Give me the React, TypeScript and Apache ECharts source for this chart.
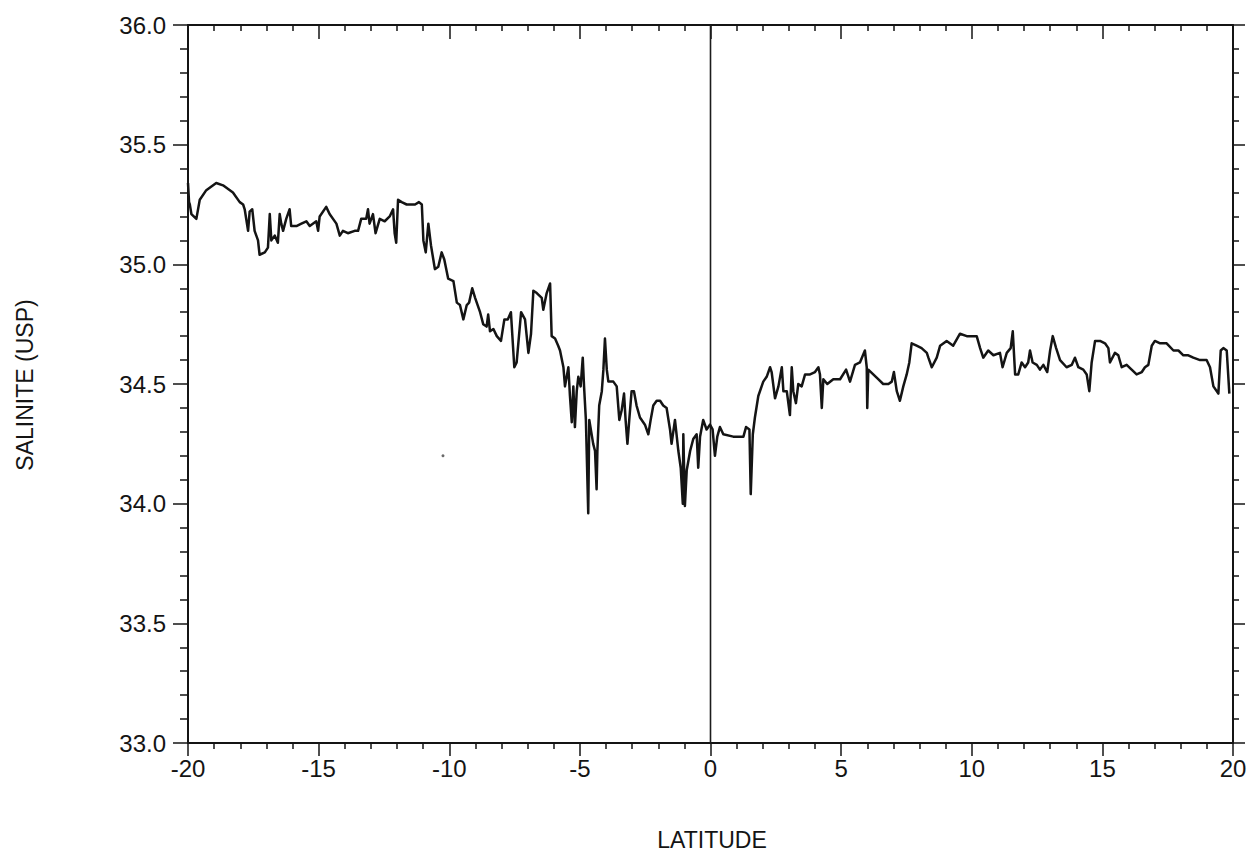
import React, { useEffect, useRef } from "react";
import * as echarts from "echarts";

// Salinity trace: [latitude, salinity]
const southTrace: [number, number][] = [
  [-20.0, 35.34], [-19.96, 35.26], [-19.93, 35.25], [-19.87, 35.21], [-19.68, 35.19], [-19.55, 35.27],
  [-19.3, 35.31], [-18.92, 35.34], [-18.66, 35.33], [-18.28, 35.3], [-18.02, 35.26], [-17.89, 35.25],
  [-17.83, 35.23], [-17.7, 35.14], [-17.64, 35.22], [-17.54, 35.23], [-17.45, 35.14], [-17.32, 35.1],
  [-17.26, 35.04], [-17.06, 35.05], [-16.94, 35.07], [-16.87, 35.21], [-16.81, 35.1], [-16.68, 35.12],
  [-16.56, 35.09], [-16.49, 35.21], [-16.43, 35.17], [-16.36, 35.14], [-16.24, 35.19], [-16.11, 35.23],
  [-16.05, 35.16], [-15.85, 35.16], [-15.66, 35.17], [-15.47, 35.18], [-15.34, 35.16], [-15.09, 35.18],
  [-15.02, 35.14], [-14.96, 35.2], [-14.71, 35.24], [-14.58, 35.21], [-14.32, 35.17], [-14.19, 35.12],
  [-14.07, 35.14], [-13.88, 35.13], [-13.62, 35.14], [-13.49, 35.14], [-13.37, 35.19], [-13.18, 35.19],
  [-13.11, 35.23], [-13.05, 35.17], [-12.92, 35.21], [-12.82, 35.13], [-12.66, 35.19], [-12.47, 35.18],
  [-12.28, 35.2], [-12.15, 35.23], [-12.09, 35.13], [-12.03, 35.09], [-11.96, 35.27], [-11.82, 35.26],
  [-11.63, 35.25], [-11.31, 35.25], [-11.16, 35.26], [-11.05, 35.25], [-10.99, 35.1], [-10.9, 35.05],
  [-10.8, 35.17], [-10.7, 35.08], [-10.61, 35.02], [-10.55, 34.98], [-10.42, 34.99], [-10.29, 35.05],
  [-10.19, 35.02], [-10.04, 34.94], [-9.84, 34.93], [-9.71, 34.84], [-9.59, 34.83], [-9.46, 34.77],
  [-9.33, 34.83], [-9.24, 34.84], [-9.12, 34.9], [-9.01, 34.86], [-8.82, 34.8], [-8.7, 34.75],
  [-8.57, 34.74], [-8.51, 34.79], [-8.44, 34.72], [-8.31, 34.73], [-8.18, 34.7], [-8.02, 34.68],
  [-7.89, 34.77], [-7.76, 34.77], [-7.64, 34.8], [-7.51, 34.57], [-7.42, 34.59], [-7.25, 34.8],
  [-7.1, 34.77], [-6.97, 34.63], [-6.87, 34.71], [-6.78, 34.89], [-6.65, 34.88], [-6.46, 34.86],
  [-6.4, 34.81], [-6.27, 34.88], [-6.14, 34.92], [-6.08, 34.7], [-5.95, 34.69], [-5.83, 34.66],
  [-5.76, 34.64],
];

const equatorTrace: [number, number][] = [
  [-5.63, 34.57], [-5.57, 34.49], [-5.44, 34.57], [-5.38, 34.45], [-5.31, 34.34], [-5.25, 34.49],
  [-5.19, 34.32], [-5.12, 34.47], [-5.06, 34.53], [-4.97, 34.49], [-4.89, 34.61], [-4.84, 34.49],
  [-4.77, 34.35], [-4.68, 33.96], [-4.64, 34.35], [-4.49, 34.25], [-4.42, 34.22], [-4.36, 34.06],
  [-4.33, 34.22], [-4.26, 34.41], [-4.16, 34.47], [-4.1, 34.56], [-4.04, 34.69], [-3.97, 34.56],
  [-3.91, 34.51], [-3.72, 34.51], [-3.59, 34.49], [-3.49, 34.35], [-3.4, 34.39], [-3.31, 34.46],
  [-3.25, 34.35], [-3.18, 34.25], [-3.11, 34.35], [-3.02, 34.47], [-2.93, 34.47], [-2.83, 34.41],
  [-2.7, 34.36], [-2.51, 34.33], [-2.38, 34.29], [-2.29, 34.35], [-2.19, 34.41], [-2.06, 34.43],
  [-1.93, 34.43], [-1.81, 34.41], [-1.68, 34.4], [-1.55, 34.31], [-1.49, 34.25], [-1.36, 34.35],
  [-1.23, 34.22], [-1.14, 34.15], [-1.06, 34.0], [-1.04, 34.29], [-0.98, 33.99], [-0.91, 34.14],
  [-0.78, 34.22], [-0.66, 34.27], [-0.53, 34.29], [-0.47, 34.15], [-0.4, 34.28], [-0.28, 34.35],
  [-0.15, 34.31], [-0.02, 34.33], [0.08, 34.31], [0.17, 34.2], [0.26, 34.28], [0.36, 34.32],
  [0.49, 34.29], [0.87, 34.28], [1.26, 34.28], [1.36, 34.32], [1.49, 34.31], [1.54, 34.04],
  [1.62, 34.29], [1.7, 34.36], [1.83, 34.45], [2.02, 34.51], [2.15, 34.53], [2.28, 34.57],
  [2.34, 34.55], [2.47, 34.44], [2.6, 34.49], [2.73, 34.57], [2.79, 34.47], [2.92, 34.47],
  [3.04, 34.37], [3.11, 34.57], [3.17, 34.47], [3.27, 34.42], [3.36, 34.5], [3.49, 34.49],
  [3.62, 34.54], [3.81, 34.54], [4.0, 34.55], [4.13, 34.57], [4.19, 34.54], [4.26, 34.4],
  [4.32, 34.52], [4.47, 34.5], [4.7, 34.52], [4.96, 34.52],
];

const northTrace: [number, number][] = [
  [5.19, 34.56], [5.34, 34.51], [5.53, 34.58], [5.72, 34.59], [5.91, 34.64], [5.98, 34.57],
  [6.0, 34.4], [6.04, 34.56], [6.23, 34.54], [6.42, 34.52], [6.61, 34.5], [6.81, 34.5],
  [6.94, 34.51], [7.02, 34.55], [7.13, 34.47], [7.25, 34.43], [7.38, 34.49], [7.51, 34.54],
  [7.61, 34.59], [7.7, 34.67], [7.89, 34.66], [8.08, 34.65], [8.28, 34.63], [8.34, 34.61],
  [8.47, 34.57], [8.66, 34.61], [8.79, 34.66], [9.04, 34.68], [9.29, 34.66], [9.55, 34.71],
  [9.81, 34.7], [10.06, 34.7], [10.19, 34.7], [10.32, 34.65], [10.44, 34.61], [10.63, 34.64],
  [10.83, 34.62], [11.08, 34.63], [11.18, 34.57], [11.34, 34.63], [11.49, 34.65], [11.57, 34.72],
  [11.66, 34.54], [11.78, 34.54], [11.91, 34.59], [12.04, 34.57], [12.16, 34.59], [12.23, 34.64],
  [12.33, 34.59], [12.49, 34.58], [12.61, 34.56], [12.74, 34.58], [12.89, 34.55], [13.0, 34.64],
  [13.1, 34.7], [13.23, 34.65], [13.38, 34.6], [13.63, 34.57], [13.83, 34.58], [13.95, 34.61],
  [14.08, 34.57], [14.27, 34.56], [14.4, 34.54], [14.5, 34.47], [14.59, 34.59], [14.72, 34.68],
  [14.91, 34.68], [15.1, 34.67], [15.23, 34.65], [15.29, 34.59], [15.48, 34.63], [15.61, 34.62],
  [15.74, 34.57], [15.93, 34.58], [16.12, 34.56], [16.31, 34.54], [16.51, 34.55], [16.63, 34.57],
  [16.76, 34.58], [16.89, 34.66], [17.01, 34.68], [17.21, 34.67], [17.46, 34.67], [17.72, 34.64],
  [17.91, 34.64], [18.1, 34.62], [18.29, 34.62], [18.48, 34.61], [18.74, 34.6], [18.99, 34.6],
  [19.12, 34.57], [19.25, 34.49], [19.44, 34.46], [19.53, 34.64], [19.63, 34.65], [19.76, 34.64],
  [19.86, 34.46],
];

const strayDot: [number, number][] = [[-10.24, 34.2]];

const latRange = [-20, 20];
const latStep = 5;
const salRange = [33, 36];
const salStep = 0.5;
const equatorLat = 0;

const xLabel = "LATITUDE";
const yLabel = "SALINITE (USP)";

const FONT = "'Liberation Sans', Arial, Helvetica, sans-serif";
const INK = "#141414";

export default function App() {
  const ref = useRef<HTMLDivElement>(null);

  useEffect(() => {
    if (!ref.current) return;
    const chart = echarts.init(ref.current, undefined, { renderer: "svg" });
    const trace = [...southTrace, ...equatorTrace, ...northTrace];
    const equatorLine = [
      [equatorLat, salRange[0]],
      [equatorLat, salRange[1]],
    ];

    const xBase = {
      type: "value" as const,
      min: latRange[0],
      max: latRange[1],
      interval: latStep,
      splitLine: { show: false },
      axisLine: { show: true, onZero: false, lineStyle: { color: INK, width: 2 } },
      minorTick: { show: true, splitNumber: 5, lineStyle: { color: INK, width: 1.5 } },
    };
    const yBase = {
      type: "value" as const,
      min: salRange[0],
      max: salRange[1],
      interval: salStep,
      splitLine: { show: false },
      axisLine: { show: true, onZero: false, lineStyle: { color: INK, width: 2 } },
      minorTick: { show: true, splitNumber: 5, lineStyle: { color: INK, width: 1.5 } },
    };

    chart.setOption({
      animation: false,
      backgroundColor: "#ffffff",
      grid: { left: 188, top: 25, right: 17, bottom: 110, containLabel: false },
      xAxis: [
        {
          ...xBase,
          position: "bottom",
          axisTick: { show: true, inside: false, length: 13, lineStyle: { color: INK, width: 1.5 } },
          minorTick: { ...xBase.minorTick, length: 6 },
          axisLabel: {
            show: true,
            margin: 13,
            color: INK,
            fontSize: 24,
            fontFamily: FONT,
            formatter: (v: number) => String(v),
          },
        },
        {
          ...xBase,
          position: "top",
          axisTick: { show: true, inside: true, length: 14, lineStyle: { color: INK, width: 1.5 } },
          minorTick: { ...xBase.minorTick, length: 6 },
          axisLabel: { show: false },
        },
      ],
      yAxis: [
        {
          ...yBase,
          position: "left",
          axisTick: { show: true, inside: false, length: 15, lineStyle: { color: INK, width: 1.5 } },
          minorTick: { ...yBase.minorTick, length: 8 },
          axisLabel: {
            show: true,
            margin: 22,
            color: INK,
            fontSize: 24,
            fontFamily: FONT,
            formatter: (v: number) => v.toFixed(1),
          },
        },
        {
          ...yBase,
          position: "right",
          axisTick: { show: true, inside: false, length: 12, lineStyle: { color: INK, width: 1.5 } },
          minorTick: { ...yBase.minorTick, length: 6 },
          axisLabel: { show: false },
        },
      ],
      series: [
        {
          type: "line",
          xAxisIndex: 0,
          yAxisIndex: 0,
          data: equatorLine,
          showSymbol: false,
          symbol: "none",
          clip: false,
          lineStyle: { color: "#1c1c1c", width: 1.6 },
          z: 2,
          silent: true,
        },
        {
          type: "line",
          xAxisIndex: 0,
          yAxisIndex: 0,
          data: trace,
          showSymbol: false,
          symbol: "none",
          lineStyle: { color: INK, width: 2.5, join: "round" },
          z: 3,
        },
        {
          type: "scatter",
          xAxisIndex: 0,
          yAxisIndex: 0,
          data: strayDot,
          symbolSize: 3,
          itemStyle: { color: "#444" },
          silent: true,
        },
      ],
      graphic: [
        {
          type: "text",
          x: 712,
          y: 840,
          style: {
            text: xLabel,
            fill: INK,
            fontSize: 23,
            fontFamily: FONT,
            align: "center",
            verticalAlign: "middle",
          },
        },
        {
          type: "text",
          x: 25,
          y: 385,
          rotation: Math.PI / 2,
          style: {
            text: yLabel,
            fill: INK,
            fontSize: 23,
            fontFamily: FONT,
            align: "center",
            verticalAlign: "middle",
          },
        },
      ],
    });

    return () => chart.dispose();
  }, []);

  return (
    <div
      ref={ref}
      style={{ position: "fixed", left: 0, top: 0, width: 1250, height: 853, background: "#fff" }}
    />
  );
}
